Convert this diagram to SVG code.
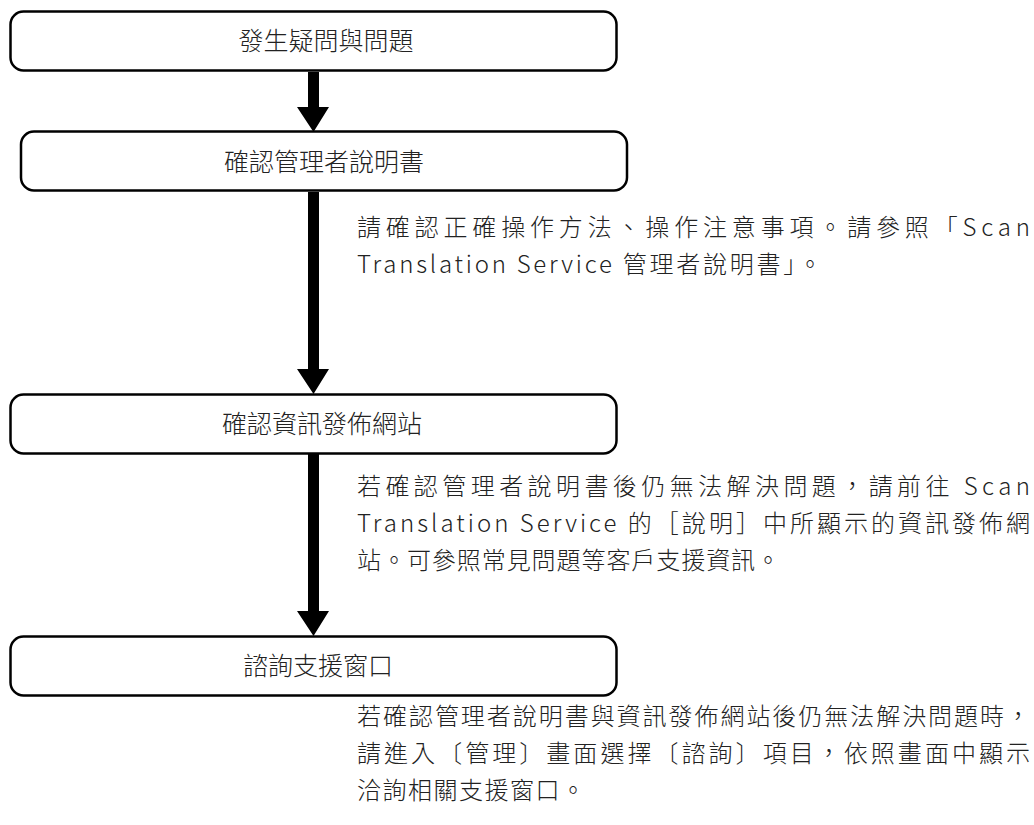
<svg xmlns="http://www.w3.org/2000/svg" width="1034" height="825" viewBox="0 0 1034 825">
<style>
.box{fill:#fff;stroke:#000;stroke-width:2.5}
.lbl{font-family:"Noto Sans CJK TC","Noto Sans CJK JP",sans-serif;font-size:25px;fill:#222;text-anchor:middle;font-weight:300}
.txt{font-family:"Noto Sans CJK TC","Noto Sans CJK JP",sans-serif;font-size:24px;fill:#222;font-weight:300}
.arr{fill:#000}
</style>
<rect width="1034" height="825" fill="#fff"/>
<g id="connectors">
<path class="arr" d="M308 72H319V107H329L313.5 132L297 107H308Z"/>
<path class="arr" d="M308 192H319V369H329L313.5 394L297 369H308Z"/>
<path class="arr" d="M308 453H319V611H329L313.5 636L297 611H308Z"/>
</g>
<g id="node1">
<rect class="box" x="10.5" y="11.5" width="606" height="59" rx="13"/>
<text class="lbl" x="326" y="50">發生疑問與問題</text>
</g>
<g id="node2">
<rect class="box" x="21" y="131.5" width="606" height="59" rx="13"/>
<text class="lbl" x="324" y="171">確認管理者說明書</text>
</g>
<g id="node3">
<rect class="box" x="10.5" y="394.5" width="606" height="59" rx="13"/>
<text class="lbl" x="322" y="433">確認資訊發佈網站</text>
</g>
<g id="node4">
<rect class="box" x="10.5" y="636.5" width="606" height="59" rx="13"/>
<text class="lbl" x="318" y="675">諮詢支援窗口</text>
</g>
<g id="notes">
<text class="txt" x="357" y="236" textLength="673" lengthAdjust="spacing">請確認正確操作方法、操作注意事項。請參照「Scan</text>
<text class="txt" x="357" y="273" textLength="465" lengthAdjust="spacing">Translation Service 管理者說明書」。</text>
<text class="txt" x="357" y="495" textLength="673" lengthAdjust="spacing">若確認管理者說明書後仍無法解決問題，請前往 Scan</text>
<text class="txt" x="357" y="532" textLength="673" lengthAdjust="spacing">Translation Service 的［說明］中所顯示的資訊發佈網</text>
<text class="txt" x="357" y="569" textLength="423" lengthAdjust="spacing">站。可參照常見問題等客戶支援資訊。</text>
<text class="txt" x="357" y="725" textLength="673" lengthAdjust="spacing">若確認管理者說明書與資訊發佈網站後仍無法解決問題時，</text>
<text class="txt" x="357" y="762" textLength="673" lengthAdjust="spacing">請進入〔管理〕畫面選擇〔諮詢〕項目，依照畫面中顯示</text>
<text class="txt" x="357" y="799" textLength="228" lengthAdjust="spacing">洽詢相關支援窗口。</text>
</g>
</svg>
